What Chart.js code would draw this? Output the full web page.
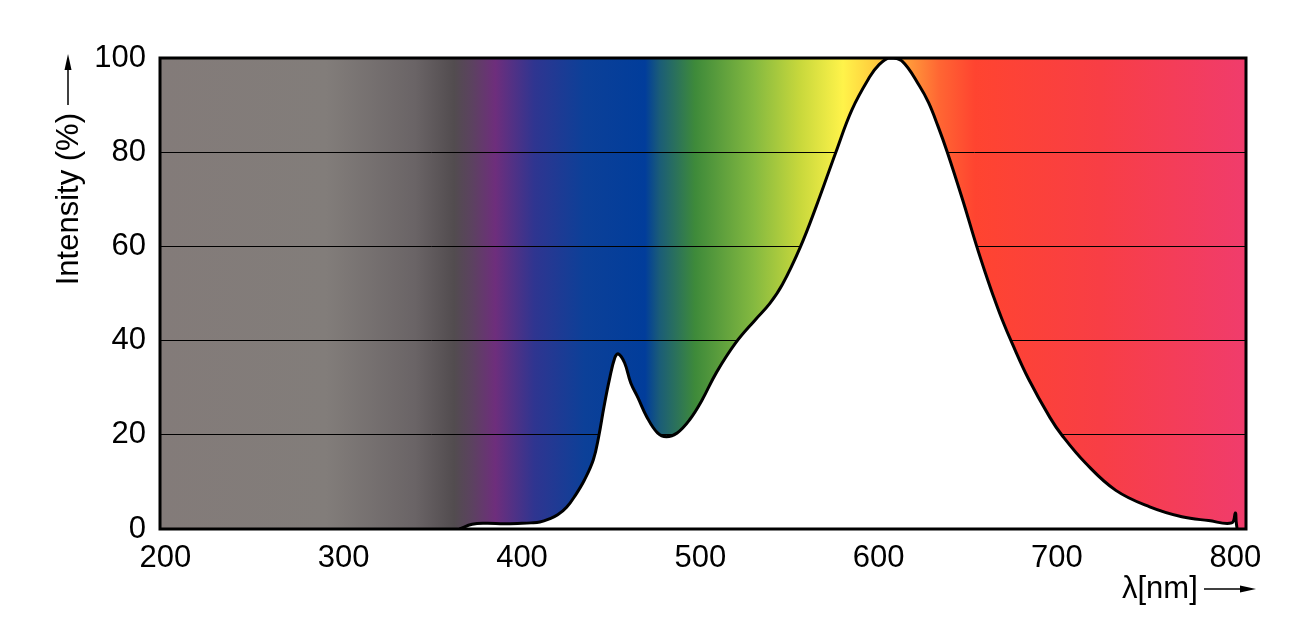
<!DOCTYPE html>
<html>
<head>
<meta charset="utf-8">
<script src="https://cdn.jsdelivr.net/npm/chart.js@4/dist/chart.umd.min.js"></script>
<style>
    html, body { margin: 0; padding: 0; background: #fff; }
    #wrap { width: 1311px; height: 641px; }
</style>
</head>
<body>
<div id="wrap"><canvas id="spectrum"></canvas></div>
<script>
// ===== Data =====
// wavelength (nm) and relative intensity (%)
const wavelengths = [365, 372, 380, 390, 400, 405, 410, 415, 420, 425, 430, 435, 440, 443, 446, 449, 452, 454, 457.5, 461,
    465, 470, 476, 481, 487, 494, 501, 509, 520, 531, 539, 546, 556, 565, 576, 585, 595, 600, 606, 613,
    623, 628, 633, 638.5, 647, 655, 660, 664, 669, 675, 684, 696, 703, 716, 733, 752, 770, 785, 798, 800,
    800.5, 801];
const intensity = [0, 1.0, 1.2, 1.1, 1.2, 1.3, 1.5, 2.1, 3.0, 4.6, 7.2, 10.4, 14.7, 19.6, 26, 31.7, 36.3, 37.2, 35.3, 31,
    27.9, 23.8, 20.4, 19.6, 20.4, 23.2, 27.4, 33.2, 39.6, 44.5, 47.9, 51.9, 59.8, 68.5, 80, 89, 96, 98.5, 100, 99.4,
    94, 90.5, 85.8, 80, 70, 60, 54.2, 49.8, 44.7, 39.3, 31.9, 23.7, 19.8, 14.0, 8.2, 4.7, 2.6, 1.8, 1.3, 3.4,
    1.5, 0];
const xTickValues = [200, 300, 400, 500, 600, 700, 800];
const yTickValues = [0, 20, 40, 60, 80, 100];

// spectrum colours behind the curve (nm -> colour)
const spectrumNm = [197, 290, 340, 362, 372, 385, 407, 435, 469, 477, 497, 530, 556, 580, 595, 614, 634, 654, 724, 806];
const spectrumColor = ['#837b79', '#827d7a', '#6a6466', '#524c4f', '#5c4260', '#6e2e7c', '#2f3590', '#0c4098', '#013d9b',
    '#1a5c78', '#3e8a3a', '#84b940', '#c8d83c', '#fff34a', '#ffd23f', '#ffa23c', '#ff6633', '#ff4430', '#f83e45', '#f03c6c'];

const FONT = '"Liberation Sans", Arial, sans-serif';

// gradient background inside the plot area
const spectrumBackground = {
    id: 'spectrumBackground',
    beforeDraw(chart) {
        const { ctx, chartArea: a, scales } = chart;
        const g = ctx.createLinearGradient(a.left, 0, a.right, 0);
        spectrumNm.forEach((nm, i) => {
            const t = (scales.x.getPixelForValue(nm) - a.left) / (a.right - a.left);
            g.addColorStop(Math.min(1, Math.max(0, t)), spectrumColor[i]);
        });
        ctx.save();
        ctx.fillStyle = g;
        ctx.fillRect(a.left, a.top, a.right - a.left, a.bottom - a.top);
        ctx.restore();
    }
};

// frame, axis titles and arrows
const frameAndTitles = {
    id: 'frameAndTitles',
    afterDraw(chart) {
        const { ctx, chartArea: a } = chart;
        ctx.save();
        ctx.strokeStyle = '#000';
        ctx.lineWidth = 3;
        ctx.strokeRect(a.left, a.top, a.right - a.left, a.bottom - a.top);

        ctx.fillStyle = '#000';
        ctx.font = '31px ' + FONT;

        // y title, rotated
        ctx.save();
        ctx.translate(a.left - 82, a.top + 55);
        ctx.rotate(-Math.PI / 2);
        ctx.textAlign = 'right';
        ctx.textBaseline = 'alphabetic';
        ctx.fillText('Intensity (%)', 0, 0);
        ctx.restore();

        // y arrow
        const ax = a.left - 92;
        ctx.lineWidth = 1.5;
        ctx.beginPath();
        ctx.moveTo(ax, a.top + 47);
        ctx.lineTo(ax, a.top + 8);
        ctx.stroke();
        ctx.beginPath();
        ctx.moveTo(ax, a.top - 4);
        ctx.lineTo(ax - 3.5, a.top + 12);
        ctx.lineTo(ax + 3.5, a.top + 12);
        ctx.closePath();
        ctx.fill();

        // x title
        ctx.textAlign = 'left';
        ctx.fillText('λ[nm]', a.right - 124, a.bottom + 69);
        const ay = a.bottom + 60;
        ctx.beginPath();
        ctx.moveTo(a.right - 42, ay);
        ctx.lineTo(a.right - 2, ay);
        ctx.stroke();
        ctx.beginPath();
        ctx.moveTo(a.right + 10, ay);
        ctx.lineTo(a.right - 6, ay - 3.5);
        ctx.lineTo(a.right - 6, ay + 3.5);
        ctx.closePath();
        ctx.fill();
        ctx.restore();
    }
};

const ctx = document.getElementById('spectrum').getContext('2d');
new Chart(ctx, {
    type: 'line',
    data: {
        datasets: [{
            data: wavelengths.map((nm, i) => ({ x: nm, y: intensity[i] })),
            borderColor: '#000',
            borderWidth: 3,
            backgroundColor: '#ffffff',
            fill: 'origin',
            pointRadius: 0,
            tension: 0.4
        }]
    },
    options: {
        responsive: true,
        maintainAspectRatio: false,
        animation: false,
        layout: { padding: { left: 0, top: 58, right: 65, bottom: 0 } },
        plugins: { legend: { display: false }, tooltip: { enabled: false } },
        scales: {
            x: {
                type: 'linear',
                min: 197,
                max: 806,
                afterBuildTicks: s => { s.ticks = xTickValues.map(v => ({ value: v })); },
                afterFit: s => { s.height = 112; },
                grid: { display: false, drawTicks: false },
                border: { display: false },
                ticks: { color: '#000', padding: 11, font: { family: FONT, size: 31 } }
            },
            y: {
                min: 0,
                max: 100,
                afterBuildTicks: s => { s.ticks = yTickValues.map(v => ({ value: v })); },
                afterFit: s => { s.width = 160; },
                grid: { color: '#000', lineWidth: 1, drawTicks: false },
                border: { display: false },
                ticks: { color: '#000', padding: 14, font: { family: FONT, size: 31 } }
            }
        }
    },
    plugins: [spectrumBackground, frameAndTitles]
});
</script>
</body>
</html>
